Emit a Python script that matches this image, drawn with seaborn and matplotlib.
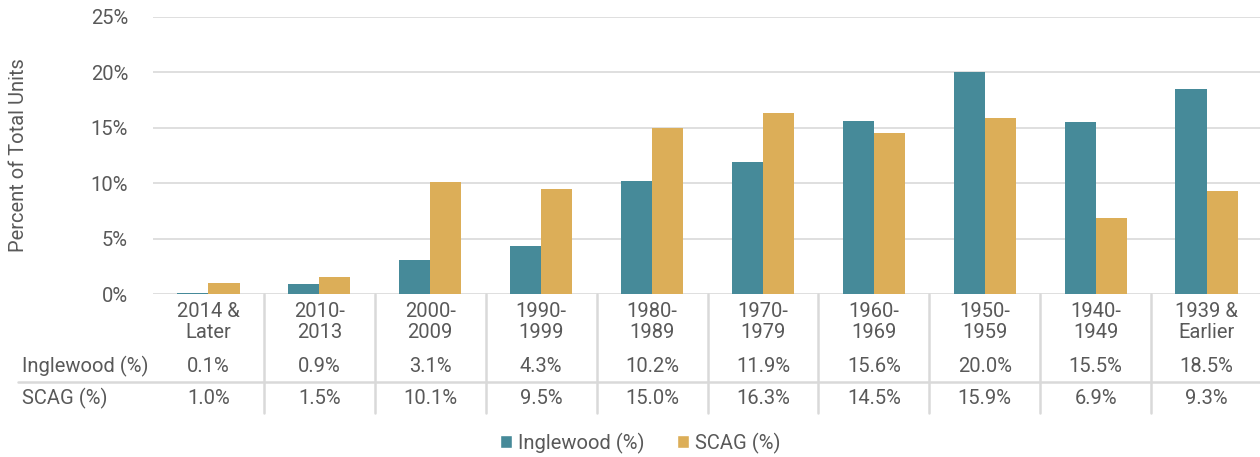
import matplotlib
matplotlib.use("Agg")
import matplotlib.pyplot as plt
import matplotlib.transforms as mtransforms
import seaborn as sns
import pandas as pd
from matplotlib.patches import Patch
from matplotlib.lines import Line2D

categories = ["2014 &\nLater", "2010-\n2013", "2000-\n2009", "1990-\n1999", "1980-\n1989",
              "1970-\n1979", "1960-\n1969", "1950-\n1959", "1940-\n1949", "1939 &\nEarlier"]
inglewood = [0.1, 0.9, 3.1, 4.3, 10.2, 11.9, 15.6, 20.0, 15.5, 18.5]
scag = [1.0, 1.5, 10.1, 9.5, 15.0, 16.3, 14.5, 15.9, 6.9, 9.3]
series_names = ["Inglewood (%)", "SCAG (%)"]
yticks = [0, 5, 10, 15, 20, 25]

teal = "#468A99"
gold = "#DCAE58"
txt = "#595959"
grid_c = "#D9D9D9"
FS = 14.5

sns.set_theme(style="white")
plt.rcParams["font.family"] = ["Roboto", "DejaVu Sans"]

df = pd.DataFrame({
    "cat": categories * 2,
    "val": inglewood + scag,
    "series": [series_names[0]] * len(categories) + [series_names[1]] * len(categories),
})

W, H = 1260, 457
fig = plt.figure(figsize=(W / 100, H / 100), dpi=100)
ax = fig.add_axes([153 / W, 1 - 294 / H, (1262 - 153) / W, (294 - 17) / H])

sns.barplot(data=df, x="cat", y="val", hue="series", palette=[teal, gold],
            width=0.56, gap=0, ax=ax, legend=False, saturation=1, linewidth=0)

ax.set_ylim(0, 25)
ax.set_xlim(-0.5, len(categories) - 0.5)
ax.set_yticks(yticks)
ax.set_yticklabels([f"{t}%" for t in yticks], color=txt, fontsize=FS)
ax.yaxis.grid(True, color=grid_c, linewidth=1.2)
ax.set_axisbelow(True)
for s in ax.spines.values():
    s.set_visible(False)
ax.tick_params(axis="y", length=0, pad=18)
ax.set_xticks([])
ax.set_xlabel("")
ax.set_ylabel("Percent of Total Units", color=txt, fontsize=FS)
ax.yaxis.set_label_coords((28 - 153) / (1262 - 153), 0.5)

def fy(py):
    return 1 - py / H

blend = mtransforms.blended_transform_factory(ax.transData, fig.transFigure)
for i, c in enumerate(categories):
    ax.text(i, fy(322), c, transform=blend, ha="center", va="center",
            fontsize=FS, color=txt, linespacing=1.1)
    ax.text(i, fy(366), f"{inglewood[i]:.1f}%", transform=blend, ha="center", va="center",
            fontsize=FS, color=txt)
    ax.text(i, fy(398), f"{scag[i]:.1f}%", transform=blend, ha="center", va="center",
            fontsize=FS, color=txt)

fig.text(22 / W, fy(366), series_names[0], ha="left", va="center", fontsize=FS, color=txt)
fig.text(22 / W, fy(398), series_names[1], ha="left", va="center", fontsize=FS, color=txt)

for i in range(1, len(categories)):
    ax.add_line(Line2D([i - 0.5, i - 0.5], [fy(294), fy(413)], transform=blend,
                       color=grid_c, linewidth=1.8, clip_on=False))
fig.add_artist(Line2D([18 / W, 1.0], [fy(382), fy(382)], color=grid_c, linewidth=1.8))

handles = [Patch(facecolor=teal, label=series_names[0]), Patch(facecolor=gold, label=series_names[1])]
leg = fig.legend(handles=handles, loc="center", bbox_to_anchor=(640 / W, fy(443)), ncol=2,
                 frameon=False, fontsize=FS, handlelength=0.6, handleheight=0.6,
                 handletextpad=0.3, columnspacing=1.6)
for t in leg.get_texts():
    t.set_color(txt)

fig.savefig("out.png", dpi=100)
